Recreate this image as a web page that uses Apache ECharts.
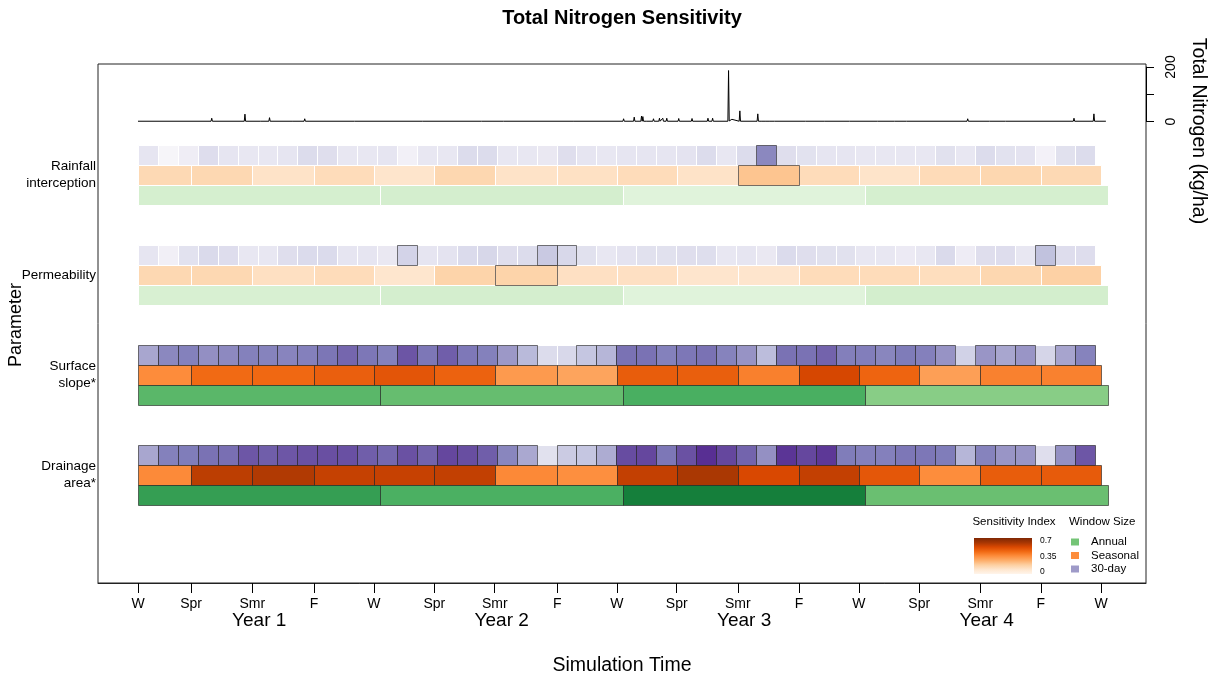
<!DOCTYPE html>
<html><head><meta charset="utf-8">
<script src="https://cdn.jsdelivr.net/npm/echarts@6/dist/echarts.min.js"></script>
<style>html,body{margin:0;padding:0;background:#fff}#c{width:1217px;height:681px}</style>
</head><body><div id="c"></div>
<script>
// ---------------- DATA ----------------
var paramLabels = ['Rainfall\ninterception', 'Permeability', 'Surface\nslope*', 'Drainage\narea*'];
var tickDays = [0, 80, 172, 265, 355, 446, 537, 631, 721, 811, 903, 995, 1085, 1176, 1268, 1359, 1450];
var tickLabels = ['W', 'Spr', 'Smr', 'F', 'W', 'Spr', 'Smr', 'F', 'W', 'Spr', 'Smr', 'F', 'W', 'Spr', 'Smr', 'F', 'W'];
var yearCenters = [182.5, 547.5, 912.5, 1277.5];
var yearLabels = ['Year 1', 'Year 2', 'Year 3', 'Year 4'];
var seasonBreaks = [0, 80, 172, 265, 355, 446, 537, 631, 721, 811, 903, 995, 1085, 1176, 1268, 1359, 1450];
var annualBreaks = [0, 365, 730, 1095, 1460];
var monthWindow = 30; // days per 30-day window
var tnTicks = [0, 100, 200];
var tnTickLabels = [0, 200];

// Sensitivity index, 30-day windows (48 per parameter)
var rainMonthly = [0.125,0.04,0.085,0.16,0.125,0.117,0.117,0.125,0.168,0.155,0.117,0.117,0.125,0.07,0.117,0.117,0.168,0.168,0.117,0.117,0.11,0.155,0.125,0.117,
                   0.125,0.125,0.125,0.135,0.168,0.117,0.168,0.405,0.155,0.14,0.125,0.125,0.117,0.117,0.117,0.117,0.145,0.117,0.168,0.14,0.135,0.06,0.145,0.168];
var permMonthly = [0.125,0.075,0.14,0.175,0.16,0.117,0.117,0.155,0.17,0.17,0.125,0.125,0.11,0.195,0.125,0.135,0.17,0.185,0.155,0.165,0.225,0.18,0.145,0.117,
                   0.135,0.145,0.145,0.155,0.158,0.117,0.125,0.11,0.17,0.155,0.145,0.145,0.117,0.117,0.1,0.117,0.175,0.09,0.155,0.16,0.117,0.248,0.16,0.16];
var slopeMonthly = [0.321,0.405,0.425,0.382,0.40,0.425,0.42,0.415,0.427,0.452,0.483,0.45,0.425,0.517,0.45,0.50,0.447,0.425,0.355,0.27,0.165,0.18,0.235,0.28,
                    0.46,0.46,0.425,0.45,0.46,0.42,0.37,0.2625,0.46,0.46,0.49,0.43,0.433,0.41,0.44,0.427,0.37,0.2,0.365,0.32,0.365,0.19,0.325,0.42];
var drainMonthly = [0.32,0.425,0.4375,0.46,0.465,0.515,0.50,0.515,0.525,0.53,0.527,0.50,0.48,0.525,0.49,0.546,0.532,0.50,0.41,0.315,0.145,0.22,0.235,0.305,
                    0.535,0.546,0.45,0.525,0.596,0.546,0.488,0.38,0.583,0.546,0.578,0.4375,0.427,0.427,0.45,0.45,0.4375,0.28,0.42,0.365,0.365,0.155,0.38,0.515];
// Seasonal windows (16 per parameter)
var rainSeasonal  = [0.139,0.143,0.10,0.127,0.092,0.147,0.10,0.107,0.127,0.10,0.203,0.127,0.096,0.131,0.147,0.139];
var permSeasonal  = [0.143,0.143,0.112,0.127,0.0875,0.16,0.16,0.11,0.11,0.09,0.09,0.127,0.127,0.12,0.147,0.17];
var slopeSeasonal = [0.352,0.436,0.44,0.464,0.49,0.456,0.316,0.289,0.47,0.465,0.382,0.53,0.45,0.302,0.378,0.378];
var drainSeasonal = [0.357,0.575,0.594,0.56,0.557,0.565,0.36,0.345,0.563,0.605,0.525,0.563,0.485,0.35,0.47,0.475];
// Annual windows (4 per parameter)
var rainAnnual  = [0.134,0.138,0.102,0.134];
var permAnnual  = [0.125,0.136,0.102,0.14];
var slopeAnnual = [0.395,0.374,0.424,0.312];
var drainAnnual = [0.473,0.42,0.56,0.367];

// Significant (outlined) windows: default flag per parameter + exceptions (cell indices)
var sigMonthly  = [{def:0, ex:[31]}, {def:0, ex:[13,20,21,45]}, {def:1, ex:[20,21,41,45]}, {def:1, ex:[20,45]}];
var sigSeasonal = [{def:0, ex:[10]}, {def:0, ex:[6]}, {def:1, ex:[]}, {def:1, ex:[]}];
var sigAnnual   = [{def:0, ex:[]}, {def:0, ex:[]}, {def:1, ex:[]}, {def:1, ex:[]}];

// Daily total nitrogen (kg/ha): [day, value]
var tnSeries = [[0,1],[110,1],[111,12],[112,1],[160,1],[161,27],[162,1],[184,1],[185,7],[186,1],[197,1],[198,14],[199,1],
  [232,1],[233,5],[234,1],[250,1],[251,10],[252,1],[326,1],[327,3],[328,1],[428,1],[429,3],[430,1],[517,1],[518,3],[519,1],
  [550,1],[551,3],[552,1],[655,1],[656,3],[657,1],[730,1],[731,10],[732,1],[746,1],[747,16],[748,1],[757,1],[758,20],[759,1],
  [760,18],[761,1],[765,1],[766,8],[767,1],[775,1],[776,10],[777,1],[784,1],[785,12],[786,1],[789,1],[790,12],[791,1],
  [795,1],[796,12],[797,1],[813,1],[814,11],[815,1],[833,1],[834,11],[835,1],[857,1],[858,12],[859,1],[864,1],[865,12],[866,1],
  [888,1],[889,187],[890,2],[893,1],[894,8],[895,1],[905,1],[906,39],[907,1],[932,1],[933,28],[934,1],[938,1],[939,6],[940,1],
  [944,1],[945,6],[946,1],[950,1],[951,6],[952,1],[958,1],[959,6],[960,1],[980,1],[981,3],[982,1],[1005,1],[1006,3],[1007,1],
  [1033,1],[1034,3],[1035,1],[1071,1],[1072,3],[1073,1],[1113,1],[1114,3],[1115,1],[1139,1],[1140,3],[1141,1],[1157,1],[1158,3],[1159,1],
  [1248,1],[1249,10],[1250,1],[1282,1],[1283,4],[1284,1],[1306,1],[1307,4],[1308,1],[1408,1],[1409,12],[1410,1],[1438,1],[1439,28],[1440,1],[1457,1]];

// ---------------- BUILD ----------------
var monthly = [rainMonthly, permMonthly, slopeMonthly, drainMonthly];
var seasonal = [rainSeasonal, permSeasonal, slopeSeasonal, drainSeasonal];
var annual = [rainAnnual, permAnnual, slopeAnnual, drainAnnual];

function isSig(spec, i) { return spec.ex.indexOf(i) >= 0 ? 1 - spec.def : spec.def; }
function buildMonthly() {
  var out = [];
  monthly.forEach(function (vals, p) {
    vals.forEach(function (v, i) { out.push([i * monthWindow, (i + 1) * monthWindow, p, v, isSig(sigMonthly[p], i)]); });
  });
  return out;
}
function buildBreaks(arrs, breaks, sig) {
  var out = [];
  arrs.forEach(function (vals, p) {
    vals.forEach(function (v, i) { out.push([breaks[i], breaks[i + 1], p, v, isSig(sig[p], i)]); });
  });
  return out;
}

var purples = ['#fcfbfd','#efedf5','#dadaeb','#bcbddc','#9e9ac8','#807dba','#6a51a3','#54278f','#3f007d'];
var oranges = ['#fff5eb','#fee6ce','#fdd0a2','#fdae6b','#fd8d3c','#f16913','#d94801','#a63603','#7f2704'];
var greens  = ['#f7fcf5','#e5f5e0','#c7e9c0','#a1d99b','#74c476','#41ab5d','#238b45','#006d2c','#00441b'];

// row band within each parameter (in y-axis units)
var bands = [[-0.30, -0.10], [-0.10, 0.10], [0.10, 0.30]];
function makeRender(row) {
  return function (params, api) {
    var p = api.value(2), sig = api.value(4);
    var a = api.coord([api.value(0), p + bands[row][0]]);
    var b = api.coord([api.value(1), p + bands[row][1]]);
    var x0 = Math.round(a[0]) + 0.5, x1 = Math.round(b[0]) + 0.5;
    var y0 = Math.round(a[1]) + 0.5, y1 = Math.round(b[1]) + 0.5;
    return {
      type: 'rect',
      shape: { x: x0, y: y0, width: x1 - x0, height: y1 - y0 },
      style: { fill: api.visual('color'), stroke: sig ? 'rgba(30,30,30,0.6)' : '#ffffff', lineWidth: 1 },
      z2: sig ? 10 : 1
    };
  };
}

var FONT = 'Liberation Sans, Arial, sans-serif';
var X_MIN = -60.2, X_MAX = 1517.4;

var option = {
  animation: false,
  backgroundColor: '#fff',
  textStyle: { fontFamily: FONT },
  grid: [
    { left: 98, right: 71, top: 64, bottom: 98, show: true, borderColor: '#222', borderWidth: 1, backgroundColor: 'transparent', z: 5 },
    { left: 98, right: 71, top: 67, height: 54.5 }
  ],
  xAxis: [
    { type: 'value', gridIndex: 0, min: X_MIN, max: X_MAX, splitLine: { show: false }, z: 10,
      axisLine: { show: true, onZero: false, lineStyle: { color: '#222', width: 1 } },
      axisTick: { show: true, customValues: tickDays, length: 10, lineStyle: { color: '#000', width: 1 } },
      axisLabel: { customValues: tickDays, margin: 14, color: '#000', fontSize: 14, fontFamily: FONT,
        formatter: function (v) { var i = tickDays.indexOf(v); return i >= 0 ? tickLabels[i] : ''; } } },
    { type: 'value', gridIndex: 0, position: 'bottom', min: X_MIN, max: X_MAX, splitLine: { show: false },
      axisLine: { show: false, onZero: false }, axisTick: { show: false },
      axisLabel: { customValues: yearCenters, margin: 28, color: '#000', fontSize: 19, fontFamily: FONT,
        formatter: function (v) { var i = yearCenters.indexOf(v); return i >= 0 ? yearLabels[i] : ''; } } },
    { type: 'value', gridIndex: 1, min: X_MIN, max: X_MAX, show: false, axisLine: { onZero: false } }
  ],
  yAxis: [
    { type: 'value', gridIndex: 0, inverse: true, min: -1.11, max: 4.08, splitLine: { show: false },
      axisLine: { show: false, onZero: false }, axisTick: { show: false },
      axisLabel: { customValues: [0, 1, 2, 3], margin: 2, color: '#000', fontSize: 13.5, lineHeight: 17, fontFamily: FONT,
        formatter: function (v) { return paramLabels[v] || ''; } } },
    { type: 'value', gridIndex: 1, position: 'right', min: 0, max: 200, splitLine: { show: false }, z: 10,
      axisLine: { show: true, onZero: false, lineStyle: { color: '#000', width: 1 } },
      axisTick: { show: true, customValues: tnTicks, length: 8, lineStyle: { color: '#000' } },
      axisLabel: { customValues: tnTickLabels, rotate: 90, margin: 18, color: '#000', fontSize: 14, fontFamily: FONT } }
  ],
  visualMap: [
    { type: 'continuous', show: false, seriesIndex: 0, dimension: 3, min: 0, max: 0.7, inRange: { color: purples } },
    { type: 'continuous', show: false, seriesIndex: 1, dimension: 3, min: 0, max: 0.7, inRange: { color: oranges } },
    { type: 'continuous', show: false, seriesIndex: 2, dimension: 3, min: 0, max: 0.7, inRange: { color: greens } }
  ],
  series: [
    { type: 'custom', name: '30-day', xAxisIndex: 0, yAxisIndex: 0, renderItem: makeRender(0), encode: { x: [0, 1], y: 2 }, data: buildMonthly() },
    { type: 'custom', name: 'Seasonal', xAxisIndex: 0, yAxisIndex: 0, renderItem: makeRender(1), encode: { x: [0, 1], y: 2 }, data: buildBreaks(seasonal, seasonBreaks, sigSeasonal) },
    { type: 'custom', name: 'Annual', xAxisIndex: 0, yAxisIndex: 0, renderItem: makeRender(2), encode: { x: [0, 1], y: 2 }, data: buildBreaks(annual, annualBreaks, sigAnnual) },
    { type: 'line', xAxisIndex: 2, yAxisIndex: 1, data: tnSeries, showSymbol: false, symbol: 'none',
      lineStyle: { color: '#000', width: 1 }, clip: false, silent: true }
  ],
  graphic: [
    { type: 'text', x: 622, y: 18, style: { text: 'Total Nitrogen Sensitivity', font: 'bold 20px ' + FONT, fill: '#000', textAlign: 'center', textVerticalAlign: 'middle' } },
    { type: 'text', x: 16, y: 325, rotation: Math.PI / 2, style: { text: 'Parameter', font: '18px ' + FONT, fill: '#000', textAlign: 'center', textVerticalAlign: 'middle' } },
    { type: 'text', x: 1198, y: 131, rotation: -Math.PI / 2, style: { text: 'Total Nitrogen (kg/ha)', font: '19.5px ' + FONT, fill: '#000', textAlign: 'center', textVerticalAlign: 'middle' } },
    { type: 'text', x: 622, y: 666, style: { text: 'Simulation Time', font: '19.5px ' + FONT, fill: '#000', textAlign: 'center', textVerticalAlign: 'middle' } },
    // legend: sensitivity index gradient
    { type: 'text', x: 1014, y: 522, style: { text: 'Sensitivity Index', font: '11.5px ' + FONT, fill: '#000', textAlign: 'center', textVerticalAlign: 'middle' } },
    { type: 'rect', shape: { x: 974, y: 538, width: 58, height: 36 },
      style: { fill: new echarts.graphic.LinearGradient(0, 1, 0, 0, oranges.map(function (c, i) { return { offset: i / (oranges.length - 1), color: c }; })) } },
    { type: 'text', x: 1040, y: 541, style: { text: '0.7', font: '8.5px ' + FONT, fill: '#000', textVerticalAlign: 'middle' } },
    { type: 'text', x: 1040, y: 556.5, style: { text: '0.35', font: '8.5px ' + FONT, fill: '#000', textVerticalAlign: 'middle' } },
    { type: 'text', x: 1040, y: 572, style: { text: '0', font: '8.5px ' + FONT, fill: '#000', textVerticalAlign: 'middle' } },
    // legend: window size
    { type: 'text', x: 1069, y: 522, style: { text: 'Window Size', font: '11.5px ' + FONT, fill: '#000', textVerticalAlign: 'middle' } },
    { type: 'rect', shape: { x: 1071, y: 538.5, width: 8, height: 7 }, style: { fill: '#74c476' } },
    { type: 'rect', shape: { x: 1071, y: 552, width: 8, height: 7 }, style: { fill: '#fd8d3c' } },
    { type: 'rect', shape: { x: 1071, y: 565.5, width: 8, height: 7 }, style: { fill: '#9e9ac8' } },
    { type: 'text', x: 1091, y: 542, style: { text: 'Annual', font: '11.5px ' + FONT, fill: '#000', textVerticalAlign: 'middle' } },
    { type: 'text', x: 1091, y: 555.5, style: { text: 'Seasonal', font: '11.5px ' + FONT, fill: '#000', textVerticalAlign: 'middle' } },
    { type: 'text', x: 1091, y: 569, style: { text: '30-day', font: '11.5px ' + FONT, fill: '#000', textVerticalAlign: 'middle' } }
  ]
};

var chart = echarts.init(document.getElementById('c'), null, { renderer: 'canvas' });
chart.setOption(option);
</script>
</body></html>
